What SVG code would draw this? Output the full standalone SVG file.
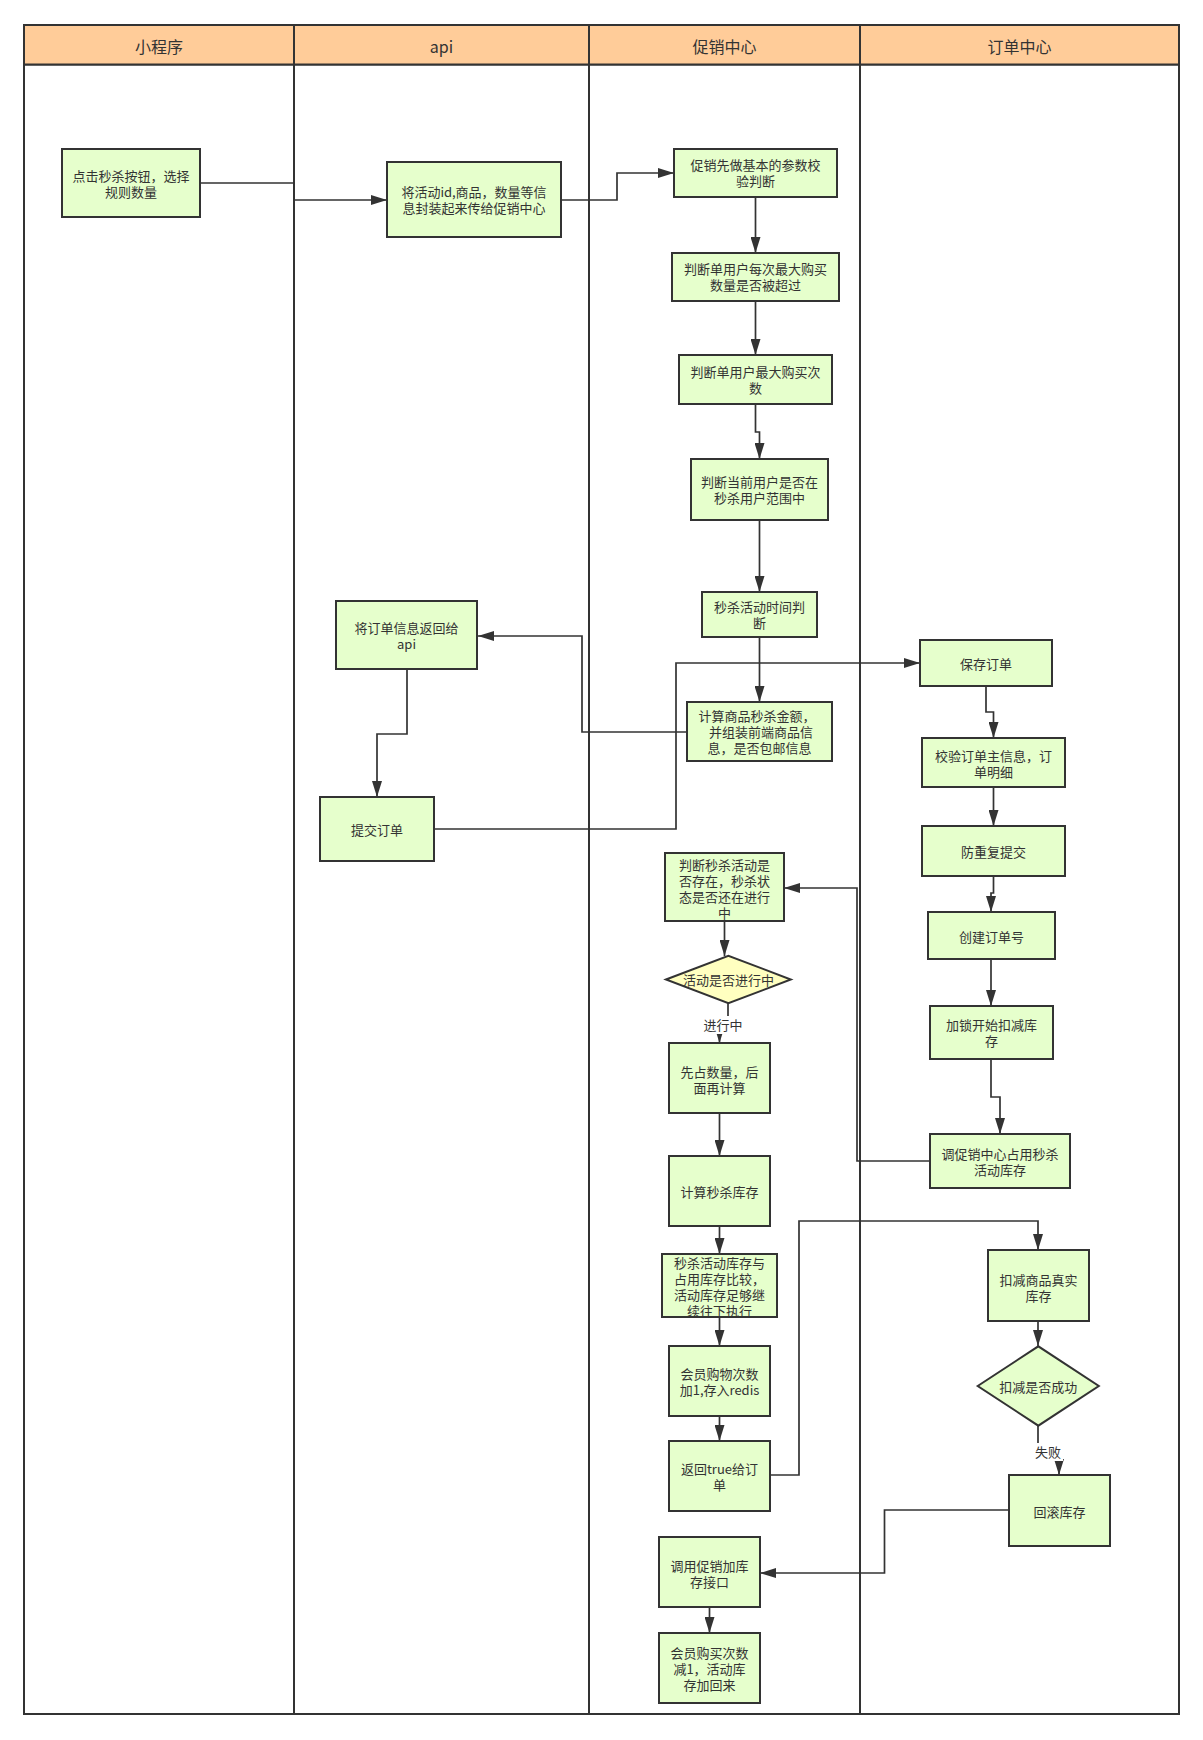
<svg xmlns="http://www.w3.org/2000/svg" width="1203" height="1740" viewBox="0 0 1203 1740">
<defs>
<style>
.lane{fill:#ffffff;stroke:#333333;stroke-width:2}
.hdr{fill:#FFCC99;stroke:#333333;stroke-width:2}
.ht{font-family:"Noto Sans CJK SC","Noto Sans",sans-serif;font-size:16px;fill:#333333;text-anchor:middle;dominant-baseline:central}
.box{fill:#E6FFCC;stroke:#333333;stroke-width:2}
.dy{fill:#FFFFC0;stroke:#333333;stroke-width:2}
.t{font-family:"Noto Sans CJK SC","Noto Sans",sans-serif;font-size:13px;fill:#333333;text-anchor:middle;dominant-baseline:central}
.c{fill:none;stroke:#333333;stroke-width:1.7;marker-end:url(#arr)}
.cn{fill:none;stroke:#333333;stroke-width:1.7}
</style>
<marker id="arr" viewBox="0 0 16 10" refX="16" refY="5" markerWidth="16" markerHeight="10" orient="auto" markerUnits="userSpaceOnUse"><path d="M0,0 L16,5 L0,10 z" fill="#333333"/></marker>
</defs>
<rect width="1203" height="1740" fill="#ffffff"/>
<g id="lanes">
<rect class="lane" x="24" y="64.5" width="270" height="1649.5"/>
<rect class="lane" x="294" y="64.5" width="295" height="1649.5"/>
<rect class="lane" x="589" y="64.5" width="271" height="1649.5"/>
<rect class="lane" x="860" y="64.5" width="319" height="1649.5"/>
<rect class="hdr" x="24" y="25" width="270" height="39.5"/>
<rect class="hdr" x="294" y="25" width="295" height="39.5"/>
<rect class="hdr" x="589" y="25" width="271" height="39.5"/>
<rect class="hdr" x="860" y="25" width="319" height="39.5"/>
<text class="ht" x="159" y="46">小程序</text>
<text class="ht" x="441.5" y="46">api</text>
<text class="ht" x="724.5" y="46">促销中心</text>
<text class="ht" x="1019.5" y="46">订单中心</text>
</g>
<g id="connectors">
<path class="c" d="M200,183 H294 V200 H387"/>
<path class="c" d="M561,200 H617 V173 H674"/>
<path class="c" d="M755.5,197 V253"/>
<path class="c" d="M755.5,301 V355"/>
<path class="c" d="M755.5,404 V432 H759.5 V459"/>
<path class="c" d="M759.5,520 V592"/>
<path class="c" d="M759.5,637 V702"/>
<path class="c" d="M687,732 H582 V636 H478"/>
<path class="c" d="M407,669 V734 H377 V797"/>
<path class="c" d="M434,829 H676 V663 H920"/>
<path class="c" d="M986,686 V712 H993.5 V738"/>
<path class="c" d="M993.5,787 V826"/>
<path class="c" d="M993.5,876 V893 H991 V912"/>
<path class="c" d="M991,959 V1006"/>
<path class="c" d="M991,1059 V1097 H1000 V1134"/>
<path class="c" d="M930,1161 H857 V888 H784"/>
<path class="c" d="M724.5,921 V956"/>
<path class="c" d="M728,1003 V1025 H719.5 V1043"/>
<path class="c" d="M719.5,1113 V1156"/>
<path class="c" d="M719.5,1226 V1254"/>
<path class="c" d="M719.5,1317 V1346"/>
<path class="c" d="M719.5,1416 V1441"/>
<path class="c" d="M770,1475 H799 V1221 H1038 V1250"/>
<path class="c" d="M1038,1321 V1346"/>
<path class="c" d="M1038,1426 V1452 H1059 V1475"/>
<path class="c" d="M1009,1510 H884.5 V1573 H760"/>
<path class="c" d="M709.5,1607 V1633"/>
<rect x="700" y="1016" width="46" height="18" fill="#ffffff"/>
<text class="t" x="723" y="1024">进行中</text>
<rect x="1033" y="1443" width="30" height="18" fill="#ffffff"/>
<text class="t" x="1048" y="1451">失败</text>
</g>
<g id="n1"><rect class="box" x="62" y="149" width="138" height="68"/><text class="t" x="131" y="175">点击秒杀按钮，选择</text><text class="t" x="131" y="191">规则数量</text></g>
<g id="n2"><rect class="box" x="387" y="162" width="174" height="75"/><text class="t" x="474" y="191">将活动id,商品，数量等信</text><text class="t" x="474" y="207">息封装起来传给促销中心</text></g>
<g id="n3"><rect class="box" x="674" y="149" width="163" height="48"/><text class="t" x="755.5" y="164">促销先做基本的参数校</text><text class="t" x="755.5" y="180">验判断</text></g>
<g id="n4"><rect class="box" x="672" y="253" width="167" height="48"/><text class="t" x="755.5" y="268">判断单用户每次最大购买</text><text class="t" x="755.5" y="284">数量是否被超过</text></g>
<g id="n5"><rect class="box" x="679" y="355" width="153" height="49"/><text class="t" x="755.5" y="371">判断单用户最大购买次</text><text class="t" x="755.5" y="387">数</text></g>
<g id="n6"><rect class="box" x="691" y="459" width="137" height="61"/><text class="t" x="759.5" y="481">判断当前用户是否在</text><text class="t" x="759.5" y="497">秒杀用户范围中</text></g>
<g id="n7"><rect class="box" x="702" y="592" width="115" height="45"/><text class="t" x="759.5" y="606">秒杀活动时间判</text><text class="t" x="759.5" y="622">断</text></g>
<g id="n8"><rect class="box" x="336" y="601" width="141" height="68"/><text class="t" x="406.5" y="627">将订单信息返回给</text><text class="t" x="406.5" y="643">api</text></g>
<g id="n9"><rect class="box" x="687" y="702" width="145" height="59"/><text class="t" x="757" y="715">计算商品秒杀金额，</text><text class="t" x="761" y="731">并组装前端商品信</text><text class="t" x="759.5" y="747">息，是否包邮信息</text></g>
<g id="n10"><rect class="box" x="320" y="797" width="114" height="64"/><text class="t" x="377" y="829">提交订单</text></g>
<g id="n11"><rect class="box" x="920" y="640" width="132" height="46"/><text class="t" x="986" y="663">保存订单</text></g>
<g id="n12"><rect class="box" x="922" y="738" width="143" height="49"/><text class="t" x="993.5" y="755">校验订单主信息，订</text><text class="t" x="993.5" y="771">单明细</text></g>
<g id="n13"><rect class="box" x="922" y="826" width="143" height="50"/><text class="t" x="993.5" y="851">防重复提交</text></g>
<g id="n14"><rect class="box" x="928" y="912" width="127" height="47"/><text class="t" x="991.5" y="936">创建订单号</text></g>
<g id="n15"><rect class="box" x="930" y="1006" width="123" height="53"/><text class="t" x="991.5" y="1024">加锁开始扣减库</text><text class="t" x="991.5" y="1040">存</text></g>
<g id="n16"><rect class="box" x="930" y="1134" width="140" height="54"/><text class="t" x="1000" y="1153">调促销中心占用秒杀</text><text class="t" x="1000" y="1169">活动库存</text></g>
<g id="n17"><rect class="box" x="665" y="853" width="119" height="68"/><text class="t" x="724.5" y="864">判断秒杀活动是</text><text class="t" x="724.5" y="880">否存在，秒杀状</text><text class="t" x="724.5" y="896">态是否还在进行</text><text class="t" x="724.5" y="912">中</text></g>
<g id="d1"><polygon class="dy" points="666,979.5 728.4,955.7 790.8,979.5 728.4,1003.3"/><text class="t" x="728.4" y="979">活动是否进行中</text></g>
<g id="n18"><rect class="box" x="669" y="1043" width="101" height="70"/><text class="t" x="719.5" y="1071">先占数量，后</text><text class="t" x="719.5" y="1087">面再计算</text></g>
<g id="n19"><rect class="box" x="669" y="1156" width="101" height="70"/><text class="t" x="719.5" y="1191">计算秒杀库存</text></g>
<g id="n20"><rect class="box" x="662" y="1254" width="115" height="63"/><text class="t" x="719.5" y="1262">秒杀活动库存与</text><text class="t" x="719.5" y="1278">占用库存比较，</text><text class="t" x="719.5" y="1294">活动库存足够继</text><text class="t" x="719.5" y="1310">续往下执行</text></g>
<g id="n21"><rect class="box" x="669" y="1346" width="101" height="70"/><text class="t" x="719.5" y="1373">会员购物次数</text><text class="t" x="719.5" y="1389">加1,存入redis</text></g>
<g id="n22"><rect class="box" x="669" y="1441" width="101" height="70"/><text class="t" x="719.5" y="1468">返回true给订</text><text class="t" x="719.5" y="1484">单</text></g>
<g id="n23"><rect class="box" x="988" y="1250" width="101" height="71"/><text class="t" x="1038.5" y="1279">扣减商品真实</text><text class="t" x="1038.5" y="1295">库存</text></g>
<g id="d2"><polygon class="box" points="977.7,1386 1038.3,1346.3 1098.8,1386 1038.3,1425.7"/><text class="t" x="1038.3" y="1386">扣减是否成功</text></g>
<g id="n24"><rect class="box" x="1009" y="1475" width="101" height="71"/><text class="t" x="1059.5" y="1511">回滚库存</text></g>
<g id="n25"><rect class="box" x="659" y="1537" width="101" height="70"/><text class="t" x="709.5" y="1565">调用促销加库</text><text class="t" x="709.5" y="1581">存接口</text></g>
<g id="n26"><rect class="box" x="659" y="1633" width="101" height="70"/><text class="t" x="709.5" y="1652">会员购买次数</text><text class="t" x="709.5" y="1668">减1，活动库</text><text class="t" x="709.5" y="1684">存加回来</text></g>
</svg>
